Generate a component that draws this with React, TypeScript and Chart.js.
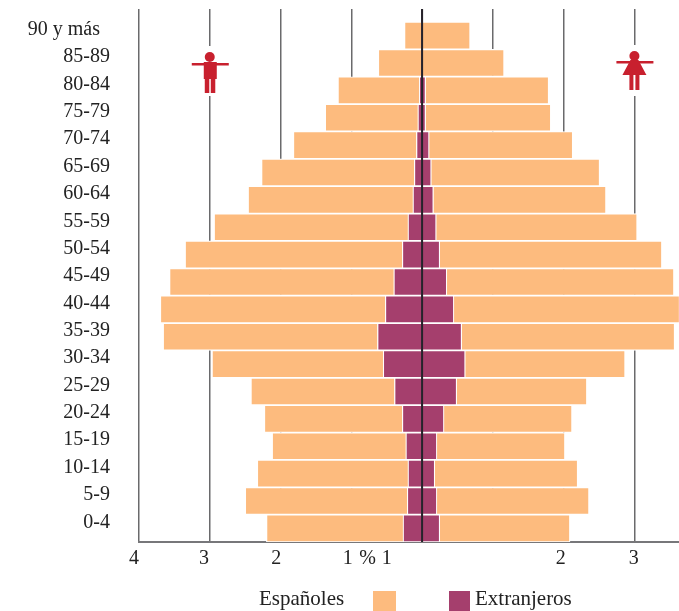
import React, { useEffect, useRef } from "react";
import { Chart, registerables } from "chart.js";

Chart.register(...registerables);

const ageGroups = ["90 y más\u00a0\u00a0", "85-89", "80-84", "75-79", "70-74", "65-69", "60-64", "55-59", "50-54", "45-49", "40-44", "35-39", "30-34", "25-29", "20-24", "15-19", "10-14", "5-9", "0-4"];
const menForeign = [0, 0, 0.04, 0.06, 0.08, 0.11, 0.13, 0.2, 0.28, 0.4, 0.52, 0.63, 0.55, 0.39, 0.28, 0.23, 0.2, 0.21, 0.27];
const menSpanish = [0.25, 0.62, 1.15, 1.31, 1.74, 2.16, 2.33, 2.74, 3.07, 3.17, 3.18, 3.03, 2.42, 2.03, 1.95, 1.89, 2.13, 2.29, 1.93];
const womenForeign = [0, 0, 0.05, 0.05, 0.1, 0.13, 0.16, 0.2, 0.25, 0.35, 0.45, 0.56, 0.61, 0.49, 0.31, 0.21, 0.18, 0.21, 0.25];
const womenSpanish = [0.68, 1.16, 1.74, 1.77, 2.03, 2.38, 2.44, 2.84, 3.14, 3.21, 3.19, 3.01, 2.26, 1.84, 1.81, 1.81, 2.02, 2.15, 1.84];
const gridValues = [-4, -3, -2, -1, 0, 1, 2, 3];
const tickValues = [-4.07, -3.08, -2.06, -1.05, -0.77, -0.5, 1.96, 2.99];
const tickLabels = ["4", "3", "2", "1", "%", "1", "2", "3"];
const legendSpanish = "Españoles";
const legendForeign = "Extranjeros";

const ORANGE = "#fdbb7e";
const PURPLE = "#a53f6d";
const RED = "#c8202e";
const FONT = "'Liberation Serif'";

function drawMan(ctx: CanvasRenderingContext2D, x: number) {
  ctx.fillStyle = "#ffffff";
  ctx.fillRect(x - 20, 46, 40, 50);
  ctx.fillStyle = RED;
  ctx.beginPath();
  ctx.arc(x, 57, 5, 0, Math.PI * 2);
  ctx.fill();
  ctx.fillRect(x - 18, 63, 37, 2.5);
  ctx.fillRect(x - 6, 62, 13, 17);
  ctx.fillRect(x - 5, 78, 4.5, 15);
  ctx.fillRect(x + 1, 78, 4.5, 15);
}

function drawWoman(ctx: CanvasRenderingContext2D, x: number) {
  ctx.fillStyle = "#ffffff";
  ctx.fillRect(x - 20, 45, 40, 51);
  ctx.fillStyle = RED;
  ctx.beginPath();
  ctx.arc(x, 56, 5, 0, Math.PI * 2);
  ctx.fill();
  ctx.fillRect(x - 18, 61, 37, 2.5);
  ctx.beginPath();
  ctx.moveTo(x - 4, 60);
  ctx.lineTo(x + 4, 60);
  ctx.lineTo(x + 12, 75);
  ctx.lineTo(x - 12, 75);
  ctx.closePath();
  ctx.fill();
  ctx.fillRect(x - 5, 74, 4, 16);
  ctx.fillRect(x + 1, 74, 4, 16);
}

const decorations = {
  id: "decorations",
  afterDraw(chart: any) {
    const { ctx, scales, chartArea } = chart;
    const xs = scales.x;
    ctx.save();
    const zero = xs.getPixelForValue(0);
    ctx.strokeStyle = "#26222a";
    ctx.lineWidth = 2;
    ctx.beginPath();
    ctx.moveTo(zero, chartArea.top);
    ctx.lineTo(zero, chartArea.bottom);
    ctx.stroke();

    drawMan(ctx, xs.getPixelForValue(-3));
    drawWoman(ctx, xs.getPixelForValue(3));

    ctx.font = `21px ${FONT}`;
    ctx.fillStyle = "#222222";
    ctx.textBaseline = "alphabetic";
    ctx.textAlign = "left";
    ctx.fillText(legendSpanish, 259, 605);
    ctx.fillText(legendForeign, 475, 605);
    ctx.fillStyle = ORANGE;
    ctx.fillRect(373, 591, 23, 20);
    ctx.fillStyle = PURPLE;
    ctx.fillRect(449, 591, 21, 20);
    ctx.restore();
  },
};

export default function App() {
  const ref = useRef<HTMLCanvasElement>(null);
  useEffect(() => {
    const toPoints = (values: number[], sign: number) => values.map((v, i) => ({ x: sign * v, y: i }));
    const common = {
      stack: "pyramid",
      borderColor: "#ffffff",
      borderWidth: 1.2,
      barPercentage: 1,
      categoryPercentage: 1,
    };
    const chart = new Chart(ref.current!, {
      type: "bar",
      data: {
        datasets: [
          { label: "Extranjeros hombres", data: toPoints(menForeign, -1), backgroundColor: PURPLE, ...common },
          { label: "Extranjeros mujeres", data: toPoints(womenForeign, 1), backgroundColor: PURPLE, ...common },
          { label: "Españoles hombres", data: toPoints(menSpanish, -1), backgroundColor: ORANGE, ...common },
          { label: "Españoles mujeres", data: toPoints(womenSpanish, 1), backgroundColor: ORANGE, ...common },
        ],
      } as any,
      options: {
        indexAxis: "y",
        responsive: false,
        animation: false,
        layout: { padding: { top: 9, right: 0, left: 0, bottom: 0 } },
        plugins: { legend: { display: false }, tooltip: { enabled: false }, title: { display: false } },
        scales: {
          y: {
            type: "linear",
            reverse: true,
            stacked: true,
            offset: false,
            min: -0.975,
            max: 18.5,
            grid: { display: false, drawTicks: false },
            border: { display: false },
            afterBuildTicks: (s: any) => {
              s.ticks = ageGroups.map((_, i) => ({ value: i }));
            },
            afterFit: (s: any) => {
              s.width = 139;
              s.paddingTop = 0;
              s.paddingBottom = 0;
            },
            ticks: {
              autoSkip: false,
              padding: 29,
              labelOffset: -6,
              color: "#222222",
              font: { family: FONT, size: 20 },
              callback: (v: any) => ageGroups[v],
            },
          },
          x: {
            type: "linear",
            stacked: true,
            position: "bottom",
            min: -4,
            max: 3.63,
            grid: { color: "#6a6a6c", lineWidth: 1.5, drawTicks: false },
            border: { display: true, color: "#77777a", width: 2 },
            afterBuildTicks: (s: any) => {
              s.ticks = gridValues.map((value) => ({ value }));
            },
            afterFit: (s: any) => {
              s.height = 0;
            },
            ticks: { display: false, autoSkip: false },
          },
          xLabels: {
            type: "linear",
            position: "bottom",
            min: -4,
            max: 3.63,
            grid: { display: false, drawTicks: false },
            border: { display: false },
            afterBuildTicks: (s: any) => {
              s.ticks = tickValues.map((value) => ({ value }));
            },
            afterFit: (s: any) => {
              s.height = 69;
            },
            ticks: {
              autoSkip: false,
              maxRotation: 0,
              padding: 5,
              color: "#222222",
              font: { family: FONT, size: 20 },
              callback: (_v: any, i: number) => tickLabels[i],
            },
          },
        },
      } as any,
      plugins: [decorations],
    });
    return () => chart.destroy();
  }, []);
  return (
    <div style={{ position: "absolute", left: 0, top: 0, width: 679, height: 611, background: "#fff" }}>
      <canvas ref={ref} width={679} height={611} style={{ display: "block" }} />
    </div>
  );
}
